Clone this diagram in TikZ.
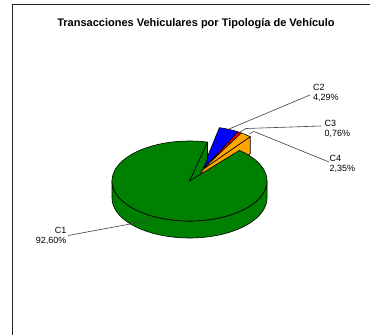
\documentclass[tikz,border=0pt]{standalone}
\usepackage{fontspec}
\setmainfont{Liberation Sans}
\definecolor{cone}{HTML}{008000}
\definecolor{ctwo}{HTML}{0000FF}
\definecolor{cthree}{HTML}{FF0000}
\definecolor{cfour}{HTML}{FFA500}
\begin{document}
\begin{tikzpicture}[x=1pt,y=-1pt,
  slice/.style={draw=black,line width=0.6pt,line join=round},
  leader/.style={draw=black!75,line width=0.6pt},
  lbl/.style={font=\fontsize{9}{10}\selectfont,inner sep=0pt,text=black},
  ttl/.style={font=\bfseries\fontsize{11}{13}\selectfont,inner sep=0pt,text=black}]
\useasboundingbox (0,0) rectangle (370,335);
\fill[white] (0,0) rectangle (370,335);
% frame
\draw[line width=1.6pt,black!85] (370,4.5) -- (12.5,4.5) -- (12.5,335);
% title
\node[ttl,anchor=base] (title) at (196,26.7) {Transacciones Vehiculares por Tipología de Vehículo};
% geometry
\def\cx{189.5}\def\cy{181}\def\ra{77.5}\def\rb{40}\def\dep{17}
\def\tx{202}\def\ty{170}\def\ea{75}\def\eb{43.5}
% exploded slices: C4 radial face
\filldraw[slice,fill=cfour] (\tx,\ty) -- ({\tx+\ea*cos(49.96)},{\ty-\eb*sin(49.96)}) -- ++(0,\dep) -- (\tx,\ty+\dep) -- cycle;
% top faces
\filldraw[slice,fill=ctwo] (\tx,\ty) -- plot[domain=61.16:76.6,samples=12] ({\tx+\ea*cos(\x)},{\ty-\eb*sin(\x)}) -- cycle;
\filldraw[slice,fill=cthree] (\tx,\ty) -- plot[domain=58.42:61.16,samples=4] ({\tx+\ea*cos(\x)},{\ty-\eb*sin(\x)}) -- cycle;
\filldraw[slice,fill=cfour] (\tx,\ty) -- plot[domain=49.96:58.42,samples=8] ({\tx+\ea*cos(\x)},{\ty-\eb*sin(\x)}) -- cycle;
% main slice C1: side
\filldraw[slice,fill=cone] plot[domain=180:360,samples=60] ({\cx+\ra*cos(\x)},{\cy-\rb*sin(\x)}) -- plot[domain=360:180,samples=60] ({\cx+\ra*cos(\x)},{\cy+\dep-\rb*sin(\x)}) -- cycle;
% radial face
\filldraw[slice,fill=cone] (\cx,\cy) -- ({\cx+\ra*cos(76.6)},{\cy-\rb*sin(76.6)}) -- ++(0,\dep) -- (\cx,\cy+\dep) -- cycle;
% top
\filldraw[slice,fill=cone] (\cx,\cy) -- plot[domain=76.6:409.96,samples=160] ({\cx+\ra*cos(\x)},{\cy-\rb*sin(\x)}) -- cycle;
% labels
\node[lbl,anchor=north west,align=left] (l2) at (313,84) {C2\\4,29\%};
\node[lbl,anchor=north west,align=left] (l3) at (324.5,120) {C3\\0,76\%};
\node[lbl,anchor=north west,align=left] (l4) at (329.5,155.5) {C4\\2,35\%};
\node[lbl,anchor=north east,align=right] (l1) at (66.5,227) {C1\\92,60\%};
% leader anchors
\coordinate (s2) at (229,129);
\coordinate (e2) at (310,95);
\coordinate (s3) at (240,132);
\coordinate (k3) at (246,128.5);
\coordinate (e3) at (321,126);
\coordinate (s4) at (249,134);
\coordinate (k4) at (254,131.5);
\coordinate (e4) at (329,162);
\coordinate (s1) at (153,218.5);
\coordinate (k1) at (133,223.5);
\coordinate (e1) at (68,235.5);
\draw[leader] (s2) -- (e2);
\draw[leader] (s3) -- (k3) -- (e3);
\draw[leader] (s4) -- (k4) -- (e4);
\draw[leader] (s1) -- (k1) -- (e1);
\end{tikzpicture}
\end{document}
